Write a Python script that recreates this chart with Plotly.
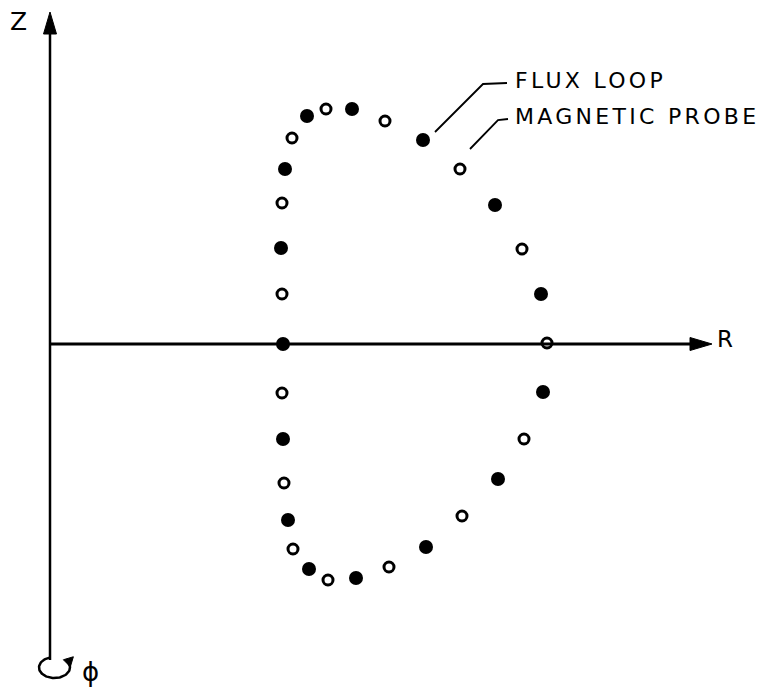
import numpy as np
import plotly.graph_objects as go

# ---- data (R, Z positions of the diagnostics, arbitrary units) ----
flux_loop_R = [2.57, 3.02, 3.73, 2.35, 4.45, 2.31, 4.91, 2.33, 4.93, 2.33, 4.48, 2.38, 2.59, 3.06, 3.76]
flux_loop_Z = [2.28, 2.35, 2.04, 1.75, 1.39, 0.96, 0.50, 0.00, -0.48, -0.95, -1.35, -1.76, -2.25, -2.34, -2.03]

probe_R = [2.76, 3.35, 2.42, 4.10, 2.32, 4.72, 2.32, 4.97, 2.32, 4.74, 2.34, 4.12, 2.43, 2.78, 3.39]
probe_Z = [2.35, 2.23, 2.06, 1.75, 1.41, 0.95, 0.50, 0.01, -0.49, -0.95, -1.39, -1.72, -2.05, -2.36, -2.23]

labels = ["FLUX LOOP", "MAGNETIC PROBE"]

# axis extents
R_MAX = 6.62
Z_MAX = 3.32
Z_MIN = -3.16

FONT = "DejaVu Sans"
INK = "black"

fig = go.Figure()

# Z axis line
fig.add_trace(go.Scatter(x=[0, 0], y=[Z_MIN, Z_MAX - 0.15], mode="lines",
                         line=dict(color=INK, width=2.5), hoverinfo="skip"))
# R axis line
fig.add_trace(go.Scatter(x=[0, R_MAX - 0.15], y=[0, 0], mode="lines",
                         line=dict(color=INK, width=3), hoverinfo="skip"))
# arrowheads
hl, hw = 0.22, 0.065
fig.add_trace(go.Scatter(x=[-hw, 0, hw, -hw], y=[Z_MAX - hl, Z_MAX, Z_MAX - hl, Z_MAX - hl],
                         mode="lines", fill="toself", fillcolor=INK,
                         line=dict(color=INK, width=1), hoverinfo="skip"))
fig.add_trace(go.Scatter(x=[R_MAX - hl, R_MAX, R_MAX - hl, R_MAX - hl], y=[-hw, 0, hw, -hw],
                         mode="lines", fill="toself", fillcolor=INK,
                         line=dict(color=INK, width=1), hoverinfo="skip"))

# circular phi arrow at the bottom of the Z axis
cx, cy, rx, ry = 0.045, -3.235, 0.155, 0.105
t = np.radians(np.linspace(105, 395, 80))
fig.add_trace(go.Scatter(x=cx + rx * np.cos(t), y=cy + ry * np.sin(t), mode="lines",
                         line=dict(color=INK, width=2.5), hoverinfo="skip"))
te = np.radians(400)
tip = (cx + rx * np.cos(te) - 0.03, cy + ry * np.sin(te) + 0.01)
fig.add_trace(go.Scatter(x=[tip[0], tip[0] + 0.10, tip[0] + 0.07, tip[0]],
                         y=[tip[1], tip[1] + 0.03, tip[1] - 0.07, tip[1]],
                         mode="lines", fill="toself", fillcolor=INK,
                         line=dict(color=INK, width=1), hoverinfo="skip"))

# leader lines
fig.add_trace(go.Scatter(x=[3.85, 4.33, 4.57], y=[2.12, 2.60, 2.61], mode="lines",
                         line=dict(color=INK, width=1.8), hoverinfo="skip"))
fig.add_trace(go.Scatter(x=[4.20, 4.48, 4.58], y=[1.95, 2.24, 2.25], mode="lines",
                         line=dict(color=INK, width=1.8), hoverinfo="skip"))

# diagnostics
fig.add_trace(go.Scatter(x=flux_loop_R, y=flux_loop_Z, mode="markers", name=labels[0],
                         marker=dict(symbol="circle", size=14, color=INK, line=dict(width=0))))
fig.add_trace(go.Scatter(x=probe_R, y=probe_Z, mode="markers", name=labels[1],
                         marker=dict(symbol="circle-open", size=10, color=INK, line=dict(width=3, color=INK))))

def txt(x, y, s, size, anchor="center", spacing=0):
    fig.add_annotation(x=x, y=y, xref="x", yref="y", showarrow=False, xanchor=anchor, yanchor="middle",
                       text=f'<span style="letter-spacing:{spacing}px">{s}</span>' if spacing else s,
                       font=dict(family=FONT, size=size, color=INK))

txt(4.63, 2.64, labels[0], 22, "left", 3.3)
txt(4.63, 2.28, labels[1], 22, "left", 3.3)
txt(-0.32, 3.23, "Z", 25)
txt(6.75, 0.05, "R", 23)
txt(0.40, -3.28, "ϕ", 26)

# page body has an 8px default margin: figure fills the rest of the 764x690 window
fig.update_layout(
    width=756, height=682, autosize=False,
    margin=dict(l=0, r=0, t=0, b=0),
    paper_bgcolor="white", plot_bgcolor="white",
    showlegend=False,
    xaxis=dict(range=[-0.42, 7.14], visible=False, fixedrange=True),
    yaxis=dict(range=[-3.46, 3.36], visible=False, fixedrange=True),
)

fig.write_html("out.html")
